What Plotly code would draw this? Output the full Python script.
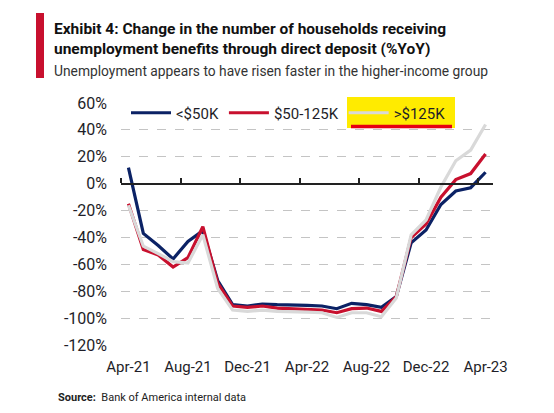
import plotly.graph_objects as go

months = ["Apr-21","May-21","Jun-21","Jul-21","Aug-21","Sep-21","Oct-21","Nov-21","Dec-21",
          "Jan-22","Feb-22","Mar-22","Apr-22","May-22","Jun-22","Jul-22","Aug-22","Sep-22","Oct-22",
          "Nov-22","Dec-22","Jan-23","Feb-23","Mar-23","Apr-23"]
tick_labels = ["Apr-21","Aug-21","Dec-21","Apr-22","Aug-22","Dec-22","Apr-23"]

low_income = [12, -37, -46, -56, -43, -35, -72, -90, -91,
              -89.5, -90, -90, -90.5, -91, -93, -89, -90, -92, -84,
              -44, -34.5, -15.5, -5.5, -3, 8.5]
mid_income = [-15, -49, -53, -62, -55, -32, -74, -91, -92,
              -91, -92.5, -93, -93, -94, -96, -93, -92.5, -95, -84,
              -40, -30, -10, 3, 7.5, 22]
high_income = [-16, -46.5, -52, -58, -59, -38, -78, -94, -95,
               -94, -95, -95, -95.5, -96, -99.5, -96, -96, -99, -85,
               -38, -27, -2.5, 17, 25, 44]

series_names = ["<$50K", "$50-125K", ">$125K"]
colors = ["#0b2265", "#c8102e", "#d9d9d9"]

x = list(range(len(months)))
tick_pos = [months.index(t) for t in tick_labels]
boundaries = [i - 0.5 for i in range(0, len(months) + 1, 4)]

fig = go.Figure()
for name, vals, col in zip(series_names, [low_income, mid_income, high_income], colors):
    fig.add_trace(go.Scatter(x=x, y=vals, mode="lines", name=name,
                             line=dict(color=col, width=3.2)))
# invisible trace to host the zero-line axis
fig.add_trace(go.Scatter(x=[x[0]], y=[0], xaxis="x2", mode="markers",
                         marker=dict(opacity=0), showlegend=False, hoverinfo="skip"))

W, H = 554, 413
L, R, T, B = 121, 61, 103, 68
pw, ph = W - L - R, H - T - B
def px(v): return (v - L) / pw
def py(v): return (H - B - v) / ph

tickfont = dict(family="Roboto", size=15, color="#1e1e28")
fig.update_layout(
    width=W, height=H, margin=dict(l=L, r=R, t=T, b=B),
    paper_bgcolor="white", plot_bgcolor="white",
    xaxis=dict(range=[-0.5, len(months) - 0.5], tickvals=tick_pos, ticktext=tick_labels,
               showgrid=False, zeroline=False, showline=False, ticks="",
               tickfont=tickfont, ticklabelstandoff=11),
    xaxis2=dict(overlaying="x", anchor="free", side="top", position=(0 - (-120)) / 180,
                range=[-0.5, len(months) - 0.5], tickvals=boundaries, showticklabels=False,
                ticks="outside", ticklen=5, tickwidth=1.5, tickcolor="#222",
                showline=True, linecolor="#222", linewidth=1.5, showgrid=False, zeroline=False),
    yaxis=dict(range=[-120, 60], tickvals=list(range(-120, 61, 20)),
               ticktext=[f"{v}%" for v in range(-120, 61, 20)],
               showgrid=True, gridcolor="#c4c4c4", griddash="dash", gridwidth=1.2,
               zeroline=False, showline=False, ticks="",
               tickfont=dict(family="Roboto", size=16, color="#1e1e28"), ticklabelstandoff=13),
    showlegend=True,
    legend=dict(orientation="h", x=px(126), y=py(113), xanchor="left", yanchor="middle",
                bgcolor="rgba(0,0,0,0)", font=dict(family="Roboto", size=15, color="#1e1e28"),
                itemwidth=40, traceorder="normal"),
)

# red side bar
fig.add_shape(type="rect", xref="paper", yref="paper", x0=px(36), x1=px(44), y0=py(78), y1=py(13),
              fillcolor="#c8102e", line_width=0, layer="above")
# yellow highlight and red underline around the >$125K legend entry
fig.add_shape(type="rect", xref="paper", yref="paper", x0=px(347), x1=px(455), y0=py(128), y1=py(97),
              fillcolor="#ffeb00", line_width=0, layer="below")
fig.add_shape(type="line", xref="paper", yref="paper", x0=px(351), x1=px(452), y0=py(126.5), y1=py(126.5),
              line=dict(color="#e60012", width=3.5), layer="above")

fig.add_annotation(xref="paper", yref="paper", x=px(52), y=py(18), xanchor="left", yanchor="top",
                   align="left", showarrow=False,
                   text="<b>Exhibit 4: Change in the number of households receiving<br>unemployment benefits through direct deposit (%YoY)</b>",
                   font=dict(family="Roboto", size=15.5, color="#111"))
fig.add_annotation(xref="paper", yref="paper", x=px(52), y=py(61), xanchor="left", yanchor="top",
                   showarrow=False, text="Unemployment appears to have risen faster in the higher-income group",
                   font=dict(family="Roboto", size=13.8, color="#333"))
fig.add_annotation(xref="paper", yref="paper", x=px(56), y=py(397), xanchor="left", yanchor="middle",
                   showarrow=False, text="<b>Source:</b>  Bank of America internal data",
                   font=dict(family="Roboto", size=11, color="#222"))

fig.write_html("out.html")
